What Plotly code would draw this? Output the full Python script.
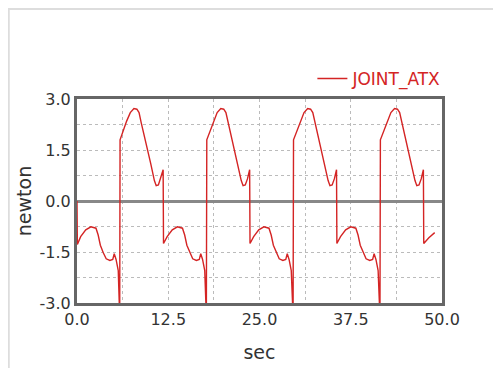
import plotly.graph_objects as go

# time (sec) and force (newton)
t_sec = [
    0.0, 0.05, 0.5, 1.2, 1.9, 2.6, 2.9, 3.2, 3.6, 4.0, 4.5, 4.9, 5.1, 5.35, 5.65, 5.85,
    5.9, 6.3, 6.8, 7.3, 7.8, 8.2, 8.5, 8.8, 9.5, 10.1, 10.6, 10.85, 11.15, 11.45, 11.8,
    11.85, 12.35, 13.05, 13.75, 14.45, 14.75, 15.05, 15.45, 15.85, 16.35, 16.75, 16.95, 17.2, 17.5, 17.72,
    17.78, 18.2, 18.7, 19.2, 19.7, 20.1, 20.4, 20.7, 21.4, 22.0, 22.5, 22.75, 23.05, 23.35, 23.65,
    23.7, 24.2, 24.9, 25.6, 26.3, 26.6, 26.9, 27.3, 27.7, 28.2, 28.6, 28.8, 29.05, 29.35, 29.6,
    29.66, 30.1, 30.6, 31.1, 31.6, 32.0, 32.3, 32.6, 33.3, 33.9, 34.4, 34.65, 34.95, 35.25, 35.55,
    35.6, 36.1, 36.8, 37.5, 38.2, 38.5, 38.8, 39.2, 39.6, 40.1, 40.5, 40.7, 40.95, 41.25, 41.5,
    41.56, 42.0, 42.5, 43.0, 43.5, 43.9, 44.2, 44.5, 45.2, 45.8, 46.3, 46.55, 46.85, 47.15, 47.45,
    47.5, 48.2, 49.0,
]
force_newton = [
    0.0, -1.28, -1.05, -0.85, -0.76, -0.8, -1.0, -1.3, -1.52, -1.7, -1.75, -1.72, -1.55, -1.72, -2.05, -3.4,
    1.8, 2.05, 2.35, 2.6, 2.72, 2.7, 2.6, 2.3, 1.7, 1.1, 0.6, 0.45, 0.47, 0.65, 0.92,
    -1.25, -1.05, -0.85, -0.76, -0.8, -1.0, -1.3, -1.52, -1.7, -1.75, -1.72, -1.55, -1.72, -2.05, -3.4,
    1.8, 2.05, 2.35, 2.6, 2.72, 2.7, 2.6, 2.3, 1.7, 1.1, 0.6, 0.45, 0.47, 0.65, 0.92,
    -1.25, -1.05, -0.85, -0.76, -0.8, -1.0, -1.3, -1.52, -1.7, -1.75, -1.72, -1.55, -1.72, -2.05, -3.4,
    1.8, 2.05, 2.35, 2.6, 2.72, 2.7, 2.6, 2.3, 1.7, 1.1, 0.6, 0.45, 0.47, 0.65, 0.92,
    -1.25, -1.05, -0.85, -0.76, -0.8, -1.0, -1.3, -1.52, -1.7, -1.75, -1.72, -1.55, -1.72, -2.05, -3.4,
    1.8, 2.05, 2.35, 2.6, 2.72, 2.7, 2.6, 2.3, 1.7, 1.1, 0.6, 0.45, 0.47, 0.65, 0.92,
    -1.25, -1.08, -0.93,
]
x_ticks = [0.0, 12.5, 25.0, 37.5, 50.0]
x_tick_labels = ["0.0", "12.5", "25.0", "37.5", "50.0"]
y_ticks = [-3.0, -1.5, 0.0, 1.5, 3.0]
y_tick_labels = ["-3.0", "-1.5", "0.0", "1.5", "3.0"]
series_name = "JOINT_ATX"

FONT = "DejaVu Sans"
LINE_RED = "#d42424"

fig = go.Figure()
fig.add_trace(go.Scatter(
    x=t_sec, y=force_newton, mode="lines", name=series_name,
    line=dict(color=LINE_RED, width=1.4),
))

axis_common = dict(
    showline=True, mirror=True, linecolor="#666666", linewidth=3,
    showgrid=True, gridcolor="#bbbbbb", griddash="dot", gridwidth=1,
    ticks="", tickfont=dict(family=FONT, size=16, color="#333333"),
)
fig.update_xaxes(
    range=[0, 50], tickvals=x_ticks, ticktext=x_tick_labels,
    minor=dict(dtick=6.25, showgrid=True, gridcolor="#bbbbbb", griddash="dot"),
    zeroline=False,
    title=dict(text="sec", font=dict(family=FONT, size=19, color="#333333"), standoff=18),
    **axis_common,
)
fig.update_yaxes(
    range=[-3, 3], tickvals=y_ticks, ticktext=y_tick_labels,
    minor=dict(dtick=0.75, showgrid=True, gridcolor="#bbbbbb", griddash="dot"),
    zeroline=True, zerolinecolor="#888888", zerolinewidth=3,
    title=dict(text="newton", font=dict(family=FONT, size=19, color="#333333"), standoff=3),
    **axis_common,
)

# light frame along the figure's top and left edges
fig.add_shape(type="rect", xref="paper", yref="paper",
              x0=-0.187, x1=1.3, y0=-0.45, y1=1.441,
              line=dict(color="#dddddd", width=2), layer="below")

fig.update_layout(
    width=485, height=360,
    margin=dict(l=69, r=51, t=91, b=65, autoexpand=False),
    paper_bgcolor="white", plot_bgcolor="white",
    showlegend=True,
    legend=dict(x=1.012, xanchor="right", y=1.098, yanchor="middle",
                font=dict(family=FONT, size=17, color=LINE_RED),
                itemwidth=30, bgcolor="rgba(0,0,0,0)"),
)

fig.write_html("out.html")
